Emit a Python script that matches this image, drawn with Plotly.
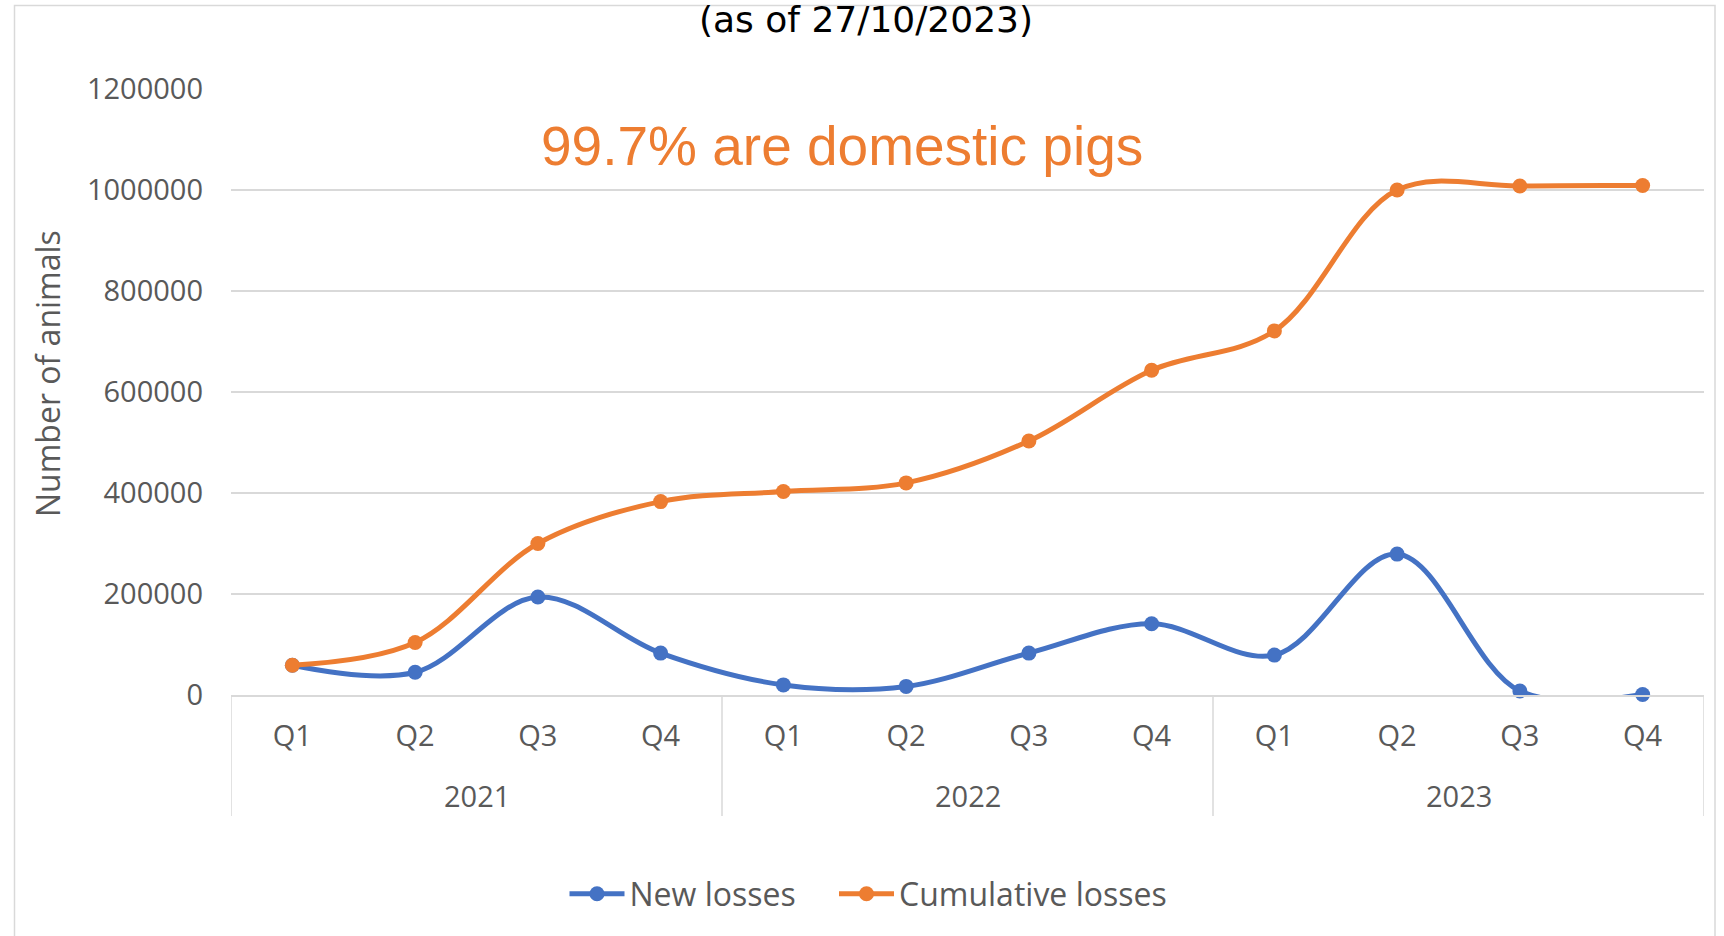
import plotly.graph_objects as go

# Quarterly African swine fever losses (number of animals)
year_labels = ["2021", "2022", "2023"]
quarter_labels = ["Q1", "Q2", "Q3", "Q4"]
years = [y for y in year_labels for _ in quarter_labels]
quarters = quarter_labels * len(year_labels)
new_losses = [59000, 45000, 194000, 83000, 20000, 17000, 83000, 141000, 79000, 279000, 8000, 1000]
cumulative_losses = [59000, 104000, 300000, 383000, 403000, 420000, 503000, 643000, 721000, 1000000, 1008000, 1009000]
y_ticks = [0, 200000, 400000, 600000, 800000, 1000000, 1200000]

BLUE = "#4472C4"
ORANGE = "#ED7D31"
GRID = "#D9D9D9"
TEXT = "#595959"

W, H = 1724, 936
L, R, T, B = 231, 20, 89, 241
PW, PH = W - L - R, H - T - B


def px_x(px):
    return (px - L) / PW


def px_y(py):
    return (H - B - py) / PH


# one category per quarter; the axis shows only the quarter name
cats = [f"{y} {q}" for y, q in zip(years, quarters)]
n_q = len(quarter_labels)

fig = go.Figure()
fig.add_trace(go.Scatter(
    x=cats, y=new_losses, name="New losses", legend="legend",
    mode="lines+markers", cliponaxis=False,
    line=dict(color=BLUE, width=5, shape="spline", smoothing=1),
    marker=dict(color=BLUE, size=15),
))
fig.add_trace(go.Scatter(
    x=cats, y=cumulative_losses, name="Cumulative losses", legend="legend2",
    mode="lines+markers", cliponaxis=False,
    line=dict(color=ORANGE, width=5, shape="spline", smoothing=1),
    marker=dict(color=ORANGE, size=15),
))

# year group labels and the dividers between groups
annotations = [
    dict(text=yr, xref="x", yref="paper", x=i * n_q + (n_q - 1) / 2, y=px_y(795),
         xanchor="center", yanchor="middle", showarrow=False,
         font=dict(size=29, color=TEXT))
    for i, yr in enumerate(year_labels)
]
shapes = [
    dict(type="line", xref="x", yref="paper", x0=i * n_q - 0.5, x1=i * n_q - 0.5,
         y0=0, y1=px_y(816), line=dict(color=GRID, width=1.5))
    for i in range(len(year_labels) + 1)
]
shapes.append(dict(
    type="rect", xref="paper", yref="paper",
    x0=px_x(14.5), x1=px_x(1715), y0=px_y(945), y1=px_y(5.5),
    line=dict(color=GRID, width=1.5), layer="below",
))

annotations += [
    dict(text="(as of 27/10/2023)", xref="paper", yref="paper",
         x=px_x(866), y=px_y(20), xanchor="center", yanchor="middle",
         showarrow=False, font=dict(family="DejaVu Sans", size=36, color="black")),
    dict(text="99.7% are domestic pigs", xref="paper", yref="paper",
         x=px_x(842), y=px_y(146), xanchor="center", yanchor="middle",
         showarrow=False, font=dict(family="Liberation Sans", size=55, color=ORANGE)),
    dict(text="Number of animals", xref="paper", yref="paper",
         x=px_x(47), y=px_y(374), xanchor="center", yanchor="middle",
         textangle=-90, showarrow=False, font=dict(size=32, color=TEXT)),
]

legend_style = dict(
    orientation="h", xanchor="left", yanchor="middle", y=px_y(894),
    font=dict(size=32, color=TEXT), itemwidth=55, bgcolor="rgba(0,0,0,0)",
)

fig.update_layout(
    width=W, height=H,
    margin=dict(l=L, r=R, t=T, b=B, autoexpand=False),
    paper_bgcolor="white", plot_bgcolor="white",
    font=dict(family="Open Sans", color=TEXT),
    showlegend=True,
    legend=dict(legend_style, x=px_x(564.5)),
    legend2=dict(legend_style, x=px_x(834)),
    xaxis=dict(
        type="category", range=[-0.5, len(cats) - 0.5],
        tickvals=cats, ticktext=quarters, showgrid=False,
        showline=True, linecolor=GRID, linewidth=1.5,
        tickfont=dict(size=29, color=TEXT), ticks="", ticklabelstandoff=14,
        automargin=False,
    ),
    yaxis=dict(
        range=[0, 1200000], tickvals=y_ticks, tickformat="d",
        showgrid=True, gridcolor=GRID, gridwidth=1.5, zeroline=False,
        tickfont=dict(size=29, color=TEXT), ticklabelstandoff=27,
        automargin=False,
    ),
    shapes=shapes,
    annotations=annotations,
)

fig.write_html("out.html")
